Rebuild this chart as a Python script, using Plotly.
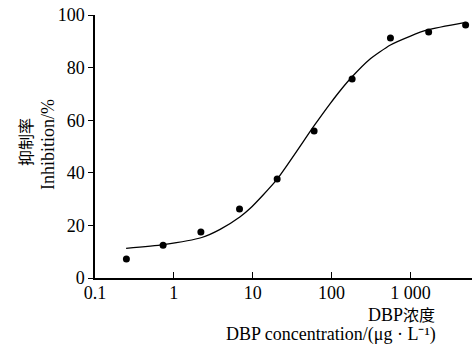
import plotly.graph_objects as go

# measured data points
conc = [0.25, 0.73, 2.2, 6.8, 20.4, 60, 182, 557, 1700, 5000]
inhib = [7.2, 12.5, 17.5, 26.2, 37.6, 55.9, 75.7, 91.3, 93.5, 96.2]

# fitted curve
curve_x = [0.248, 0.736, 2.26, 3.86, 6.93, 9.3, 20.3, 60.4, 96.4, 129, 183, 300, 557, 1000, 1630, 4990]
curve_y = [11.3, 12.7, 15.4, 18.5, 23.3, 26.5, 37.5, 58.0, 66.4, 71.3, 76.6, 83.0, 88.6, 92.0, 94.3, 97.2]

x_ticks = [0.1, 1, 10, 100, 1000]
x_tick_text = ["0.1", "1", "10", "100", "1 000"]
y_ticks = [0, 20, 40, 60, 80, 100]

serif = "Times New Roman, Liberation Serif, serif"
cjk = "Noto Sans CJK SC"

fig = go.Figure()
fig.add_trace(go.Scatter(x=curve_x, y=curve_y, mode="lines",
                         line=dict(color="black", width=1.3, shape="spline", smoothing=0.6),
                         hoverinfo="skip", showlegend=False))
fig.add_trace(go.Scatter(x=conc, y=inhib, mode="markers",
                         marker=dict(color="black", size=7), showlegend=False))

xmax_log = 3.78
fig.update_xaxes(type="log", range=[-1, xmax_log],
                 tickvals=x_ticks + [10 ** xmax_log], ticktext=x_tick_text + [""],
                 ticks="inside", ticklen=6, tickcolor="black", tickwidth=1.2,
                 ticklabelstandoff=-2,
                 showline=True, linecolor="black", linewidth=1.5,
                 showgrid=False, zeroline=False,
                 tickfont=dict(family=serif, size=18, color="black"))
fig.update_yaxes(range=[0, 100], tickvals=y_ticks,
                 ticks="outside", ticklen=5, tickcolor="black", tickwidth=1.2,
                 showline=True, linecolor="black", linewidth=1.5,
                 showgrid=False, zeroline=False,
                 tickfont=dict(family=serif, size=18, color="black"))

L, R, T, B = 95, 1, 15, 68
Wfig, Hfig = 473, 346
W = Wfig - L - R
H = Hfig - T - B


def px_x(px):
    return (px - L) / W


def px_y(py):
    return (Hfig - B - py) / H


fig.update_layout(
    width=Wfig, height=Hfig,
    margin=dict(l=L, r=R, t=T, b=B),
    paper_bgcolor="white", plot_bgcolor="white",
    font=dict(family=serif, color="black"),
    annotations=[
        dict(text="抑制率", textangle=-90, x=px_x(25), y=px_y(142),
             xref="paper", yref="paper", xanchor="center", yanchor="middle",
             showarrow=False, font=dict(family=cjk, size=16, color="black")),
        dict(text="Inhibition/%", textangle=-90, x=px_x(48), y=px_y(145),
             xref="paper", yref="paper", xanchor="center", yanchor="middle",
             showarrow=False, font=dict(family=serif, size=18, color="black")),
        dict(text="DBP<span style='font-family:Noto Sans CJK SC;font-size:16px'>浓度</span>",
             x=px_x(437), y=px_y(314), xref="paper", yref="paper",
             xanchor="right", yanchor="middle", showarrow=False,
             font=dict(family=serif, size=18, color="black")),
        dict(text="DBP concentration/(μg · L⁻¹)",
             x=px_x(438), y=px_y(334), xref="paper", yref="paper",
             xanchor="right", yanchor="middle", showarrow=False,
             font=dict(family=serif, size=18, color="black")),
    ],
)

fig.write_html("out.html", config={"displayModeBar": False},
               post_script="document.body.style.margin='0px';")
